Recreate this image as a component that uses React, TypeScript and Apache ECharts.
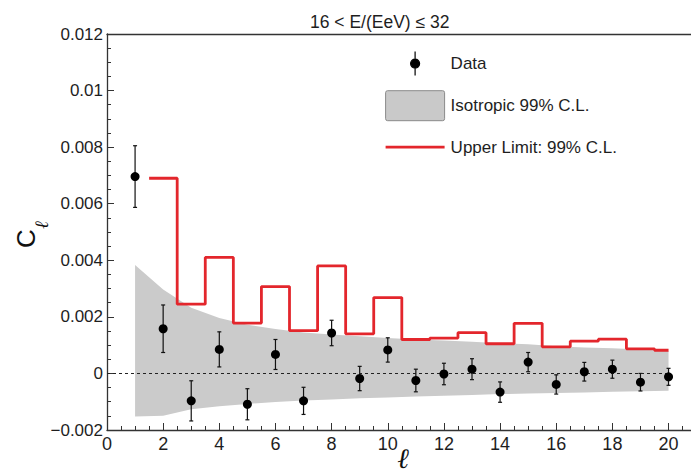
import React, { useEffect, useRef } from 'react';
import * as echarts from 'echarts';

const titleText = '16 < E/(EeV) ≤ 32';
const legendNames = ['Data', 'Isotropic 99% C.L.', 'Upper Limit: 99% C.L.'];
const yTitleMain = 'C';
const yTitleSub = 'ℓ';
const xTitle = 'ℓ';

const ell = [1, 2, 3, 4, 5, 6, 7, 8, 9, 10, 11, 12, 13, 14, 15, 16, 17, 18, 19, 20];
const clData = [
  0.00696, 0.00158, -0.00097, 0.00085, -0.00109, 0.00067, -0.00097, 0.00143, -0.00018, 0.00083,
  -0.00025, -0.00002, 0.00015, -0.00066, 0.0004, -0.00039, 0.00006, 0.00015, -0.00031, -0.00012,
];
const clErr = [
  0.00109, 0.00084, 0.00071, 0.00062, 0.00055, 0.00053, 0.00048, 0.00045, 0.00043, 0.00043,
  0.0004, 0.00038, 0.00037, 0.00036, 0.00034, 0.00034, 0.00033, 0.00032, 0.00031, 0.0003,
];
const ulEll = [2, 3, 4, 5, 6, 7, 8, 9, 10, 11, 12, 13, 14, 15, 16, 17, 18, 19, 20];
const ulVal = [
  0.0069, 0.00245, 0.0041, 0.00178, 0.00307, 0.00151, 0.0038, 0.0014, 0.00268, 0.0012,
  0.00125, 0.00144, 0.00105, 0.00177, 0.00094, 0.00114, 0.00121, 0.00087, 0.00082,
];
const isoUpper = [
  0.00383, 0.00297, 0.00232, 0.00196, 0.00172, 0.00157, 0.00145, 0.00138, 0.00131, 0.00125,
  0.0012, 0.00116, 0.00112, 0.00107, 0.00103, 0.00096, 0.00092, 0.00089, 0.00085, 0.00079,
];
const isoLower = [
  -0.00152, -0.0015, -0.00127, -0.00116, -0.00108, -0.00101, -0.00096, -0.00092, -0.00088, -0.00085,
  -0.00082, -0.00079, -0.00076, -0.00073, -0.00071, -0.00069, -0.00067, -0.00065, -0.00063, -0.00061,
];

const xMin = 0;
const xMax = 20.8;
const xStep = 2;
const xMinorStep = 0.5;
const yMin = -0.002;
const yMax = 0.012;
const yStep = 0.002;

const FONT = 'Liberation Sans';
const TXT = '#1e1e1e';
const AX = '#333';

export default function App() {
  const ref = useRef<HTMLDivElement>(null);
  useEffect(() => {
    document.body.style.margin = '0';
    if (!ref.current) return;
    const chart = echarts.init(ref.current, null, { renderer: 'svg' });

    const stepData: number[][] = [];
    ulEll.forEach((l, i) => {
      stepData.push([l - 0.5, ulVal[i]]);
      stepData.push([Math.min(l + 0.5, ell[ell.length - 1]), ulVal[i]]);
    });

    const fmtY = (v: number) => {
      if (Math.abs(v) < 1e-12) return '0';
      return String(+v.toFixed(4)).replace('-', '\u2212');
    };
    const fmtX = (v: number) => (Math.abs(v % xStep) < 1e-9 ? String(v) : '');

    const option: any = {
      animation: false,
      textStyle: { fontFamily: FONT },
      title: {
        text: titleText,
        left: 305,
        top: 8,
        textStyle: { fontFamily: FONT, fontSize: 17.5, fontWeight: 'normal', color: TXT },
      },
      graphic: [
        {
          type: 'group',
          x: 35,
          y: 248,
          rotation: Math.PI / 2,
          silent: true,
          children: [
            {
              type: 'text',
              x: 0,
              y: -9,
              style: {
                text: yTitleMain,
                font: '26px "Liberation Sans"',
                fill: '#111',
                align: 'left',
                verticalAlign: 'middle',
              },
            },
            {
              type: 'text',
              x: 19,
              y: 6,
              style: {
                text: yTitleSub,
                font: 'italic 19px "DejaVu Serif"',
                fill: '#111',
                align: 'left',
                verticalAlign: 'middle',
              },
            },
          ],
        },
      ],
      legend: {
        orient: 'vertical',
        left: 380,
        top: 43,
        itemWidth: 59,
        itemHeight: 30,
        itemGap: 11,
        selectedMode: false,
        textStyle: { fontFamily: FONT, fontSize: 17, color: TXT, padding: [0, 0, 0, 1] },
        data: [
          {
            name: legendNames[0],
            icon: 'path://M0,0M59,30M29.5,3L29.5,27M25,15A4.5,4.5 0 1 1 34,15A4.5,4.5 0 1 1 25,15Z',
            itemStyle: { color: '#000', borderColor: '#000', borderWidth: 1.2 },
          },
          {
            name: legendNames[1],
            icon: 'path://M2,0H57Q59,0 59,2V28Q59,30 57,30H2Q0,30 0,28V2Q0,0 2,0Z',
            itemStyle: { color: '#c9c9c9', borderColor: '#8a8a8a', borderWidth: 1 },
          },
          {
            name: legendNames[2],
            icon: 'path://M0,0M59,30M0,13.6H59V16.4H0Z',
            itemStyle: { color: '#e3262c', borderWidth: 0 },
          },
        ],
      },
      grid: {
        left: 107,
        top: 34,
        right: 0,
        height: 396,
        containLabel: false,
        outerBoundsMode: 'none',
      },
      xAxis: [
        {
          type: 'value',
          min: xMin,
          max: xMax,
          interval: xStep,
          name: xTitle,
          nameLocation: 'middle',
          nameGap: 14,
          nameMoveOverlap: false,
          nameTextStyle: {
            fontFamily: 'DejaVu Serif',
            fontStyle: 'italic',
            fontSize: 28,
            color: '#111',
            padding: [0, 0, 0, 8],
          },
          axisLine: { show: true, onZero: false, lineStyle: { color: AX, width: 1.3 } },
          axisTick: { show: true, inside: true, length: 7, lineStyle: { color: AX, width: 1 } },
          axisLabel: {
            fontFamily: FONT,
            fontSize: 18,
            color: TXT,
            margin: 5,
            formatter: fmtX,
          },
          splitLine: { show: false },
        },
        {
          type: 'value',
          position: 'top',
          min: xMin,
          max: xMax,
          interval: xStep,
          axisLine: { show: true, onZero: false, lineStyle: { color: AX, width: 1.3 } },
          axisTick: { show: false },
          axisLabel: { show: false },
          splitLine: { show: false },
        },
        {
          type: 'value',
          position: 'bottom',
          min: xMin,
          max: xMax,
          interval: xMinorStep,
          axisLine: { show: false, onZero: false },
          axisTick: { show: true, inside: true, length: 4, lineStyle: { color: AX, width: 1 } },
          axisLabel: { show: false },
          splitLine: { show: false },
        },
      ],
      yAxis: {
        type: 'value',
        min: yMin,
        max: yMax,
        interval: yStep,
        axisLine: { show: true, lineStyle: { color: AX, width: 1.3 } },
        axisTick: { show: true, inside: true, length: 7, lineStyle: { color: AX, width: 1 } },
        minorTick: { show: true, splitNumber: 4, length: 4, lineStyle: { color: AX, width: 1 } },
        axisLabel: { fontFamily: FONT, fontSize: 17, color: TXT, margin: 4, formatter: fmtY },
        splitLine: { show: false },
      },
      series: [
        {
          name: legendNames[1],
          type: 'custom',
          xAxisIndex: 0,
          itemStyle: { color: '#cbcbcb' },
          data: [[ell[0], isoLower[0]]],
          encode: { x: 0, y: 1 },
          z: 1,
          renderItem: (params: any, api: any) => {
            if (params.dataIndex !== 0) return null;
            const pts: number[][] = [];
            ell.forEach((l, i) => pts.push(api.coord([l, isoUpper[i]])));
            for (let i = ell.length - 1; i >= 0; i--) pts.push(api.coord([ell[i], isoLower[i]]));
            return { type: 'polygon', shape: { points: pts }, style: { fill: '#cbcbcb' } };
          },
        },
        {
          name: legendNames[2],
          type: 'line',
          xAxisIndex: 0,
          data: stepData,
          symbol: 'none',
          lineStyle: { color: '#e3262c', width: 2.8 },
          itemStyle: { color: '#e3262c' },
          z: 3,
        },
        {
          name: 'errors',
          type: 'custom',
          xAxisIndex: 0,
          data: ell.map((l, i) => [l, clData[i], clErr[i]]),
          encode: { x: 0, y: 1 },
          z: 4,
          renderItem: (params: any, api: any) => {
            const x = api.value(0);
            const y = api.value(1);
            const e = api.value(2);
            const t = api.coord([x, y + e]);
            const b = api.coord([x, y - e]);
            const cap = 2;
            const st = { stroke: '#111', lineWidth: 1.2 };
            return {
              type: 'group',
              children: [
                { type: 'line', shape: { x1: t[0], y1: t[1], x2: b[0], y2: b[1] }, style: st },
                { type: 'line', shape: { x1: t[0] - cap, y1: t[1], x2: t[0] + cap, y2: t[1] }, style: st },
                { type: 'line', shape: { x1: b[0] - cap, y1: b[1], x2: b[0] + cap, y2: b[1] }, style: st },
              ],
            };
          },
        },
        {
          name: legendNames[0],
          type: 'scatter',
          xAxisIndex: 0,
          data: ell.map((l, i) => [l, clData[i]]),
          symbol: 'circle',
          symbolSize: 9,
          itemStyle: { color: '#000', opacity: 1 },
          z: 5,
          markLine: {
            silent: true,
            symbol: ['none', 'none'],
            label: { show: false },
            lineStyle: { color: '#222', type: [3, 3], width: 1 },
            data: [[{ coord: [xMin, 0] }, { coord: [ell[ell.length - 1], 0] }]],
          },
        },
      ],
    };
    chart.setOption(option);
    return () => chart.dispose();
  }, []);
  return <div ref={ref} style={{ width: 691, height: 474 }} />;
}
